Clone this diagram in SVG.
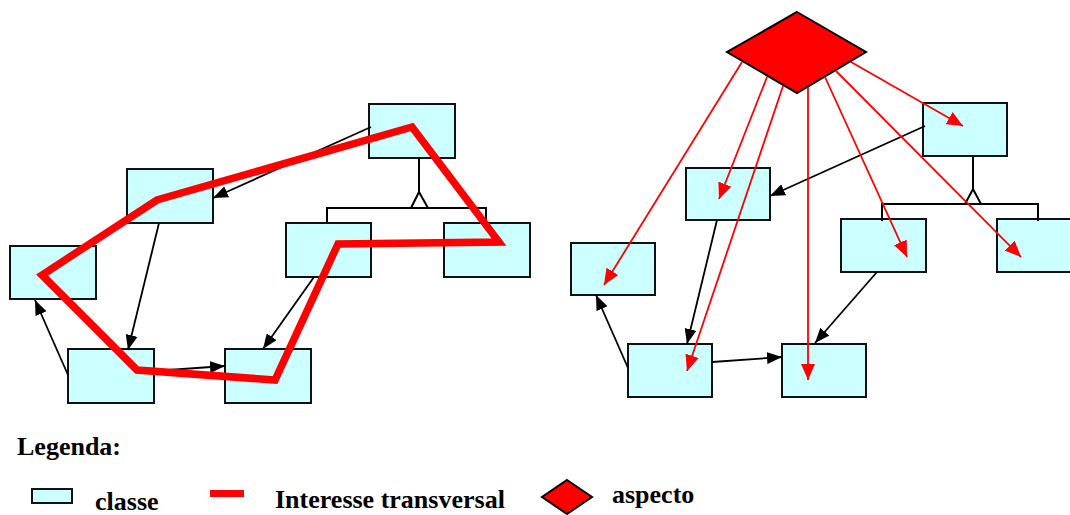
<svg xmlns="http://www.w3.org/2000/svg" width="1070" height="515" viewBox="0 0 1070 515">
<style>
.cls{fill:#CCFFFF;stroke:#111;stroke-width:2}
.asp{fill:#FF0000;stroke:#000;stroke-width:2;stroke-linejoin:miter}
.blk{fill:none;stroke:#000;stroke-width:1.8}
.red{fill:none;stroke:#FF0000;stroke-width:1.8}
.inh{fill:none;stroke:#000;stroke-width:2}
.cc{fill:none;stroke:#FF0000;stroke-width:7.5;stroke-linejoin:miter;stroke-miterlimit:4}
.lg{font-family:"Liberation Serif","Times New Roman",serif;font-weight:bold;font-size:26px;fill:#000}
</style>
<defs>
<marker id="ab" markerUnits="userSpaceOnUse" markerWidth="15" markerHeight="12" refX="15" refY="6" orient="auto">
<path d="M0,0 L15,6 L0,12 z" fill="#000"/>
</marker>
<marker id="ar" markerUnits="userSpaceOnUse" markerWidth="16" markerHeight="14" refX="16" refY="7" orient="auto">
<path d="M0,0 L16,7 L0,14 z" fill="#FF0000"/>
</marker>
</defs>

<!-- Left panel nodes -->
<g id="L1"><rect class="cls" x="369" y="104" width="86" height="54"/></g>
<g id="L2"><rect class="cls" x="127" y="169" width="86" height="54"/></g>
<g id="L3"><rect class="cls" x="10" y="246" width="86" height="53"/></g>
<g id="L4"><rect class="cls" x="286" y="223" width="85" height="54"/></g>
<g id="L5"><rect class="cls" x="444" y="223" width="86" height="54"/></g>
<g id="L6"><rect class="cls" x="68" y="349" width="86" height="54"/></g>
<g id="L7"><rect class="cls" x="225" y="349" width="86" height="54"/></g>

<!-- Right panel nodes -->
<g id="R1"><rect class="cls" x="923" y="103" width="84" height="53"/></g>
<g id="R2"><rect class="cls" x="686" y="168" width="84" height="52"/></g>
<g id="R3"><rect class="cls" x="571" y="243" width="84" height="52"/></g>
<g id="R4"><rect class="cls" x="841" y="219" width="85" height="53"/></g>
<g id="R5"><rect class="cls" x="997" y="219" width="84" height="53"/></g>
<g id="R6"><rect class="cls" x="628" y="344" width="84" height="53"/></g>
<g id="R7"><rect class="cls" x="782" y="344" width="84" height="53"/></g>
<g id="aspect"><polygon class="asp" points="797,12 866,52 797,93 727,52"/></g>

<!-- Connectors -->
<g id="connectors">
<line class="blk" x1="371" y1="127" x2="213" y2="198" marker-end="url(#ab)"/>
<line class="blk" x1="159" y1="223" x2="128" y2="350" marker-end="url(#ab)"/>
<line class="blk" x1="68" y1="375" x2="35" y2="300" marker-end="url(#ab)"/>
<line class="blk" x1="154" y1="371" x2="225" y2="366" marker-end="url(#ab)"/>
<line class="blk" x1="314" y1="277" x2="263" y2="349" marker-end="url(#ab)"/>
<line class="inh" x1="419" y1="158" x2="419" y2="192"/>
<polyline class="inh" points="411,208 419,192 428,208"/>
<polyline class="inh" points="327,223 327,208 486,208 486,223"/>

<line class="blk" x1="925" y1="126" x2="770" y2="196" marker-end="url(#ab)"/>
<line class="blk" x1="717" y1="220" x2="687" y2="344" marker-end="url(#ab)"/>
<line class="blk" x1="628" y1="368" x2="596" y2="295" marker-end="url(#ab)"/>
<line class="blk" x1="712" y1="362" x2="782" y2="357" marker-end="url(#ab)"/>
<line class="blk" x1="877" y1="272" x2="815" y2="343" marker-end="url(#ab)"/>
<line class="inh" x1="973" y1="156" x2="973" y2="189"/>
<polyline class="inh" points="965,204 973,189 981,204"/>
<polyline class="inh" points="882,221 882,204 1038,204 1038,221"/>

<line class="red" x1="742" y1="62" x2="604" y2="285" marker-end="url(#ar)"/>
<line class="red" x1="767" y1="77" x2="719" y2="199" marker-end="url(#ar)"/>
<line class="red" x1="783" y1="86" x2="687" y2="371" marker-end="url(#ar)"/>
<line class="red" x1="808" y1="87" x2="808" y2="380" marker-end="url(#ar)"/>
<line class="red" x1="825" y1="77" x2="907" y2="257" marker-end="url(#ar)"/>
<line class="red" x1="836" y1="71" x2="1021" y2="257" marker-end="url(#ar)"/>
<line class="red" x1="851" y1="62" x2="963" y2="126" marker-end="url(#ar)"/>
</g>

<!-- Crosscutting concern -->
<g id="crosscutting">
<polygon class="cc" points="412,127 499,242 338,244 275,380 137,370 42,275 157,200"/>
</g>

<!-- Legend -->
<g id="legend">
<text class="lg" x="17" y="455">Legenda:</text>
<rect class="cls" x="32" y="489" width="40" height="14" stroke-width="1.5"/>
<text class="lg" x="95" y="510">classe</text>
<rect x="210" y="490" width="34" height="7" fill="#FF0000"/>
<text class="lg" x="275" y="508">Interesse transversal</text>
<polygon class="asp" points="567,480 592,497 567,514 542,497" stroke-width="1.5"/>
<text class="lg" x="612" y="503">aspecto</text>
</g>
</svg>
